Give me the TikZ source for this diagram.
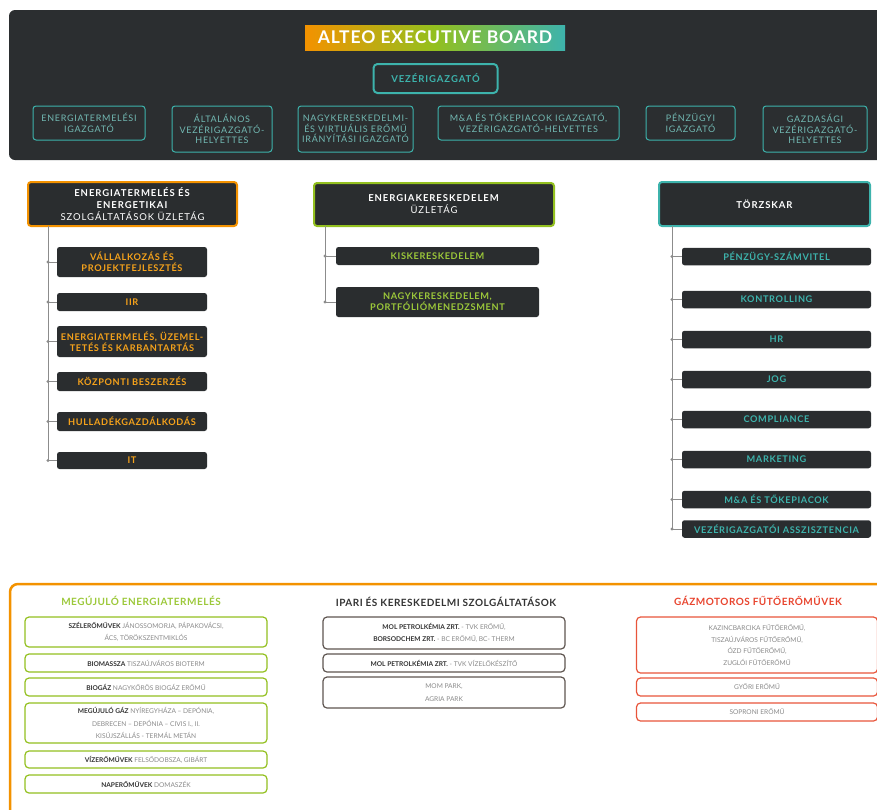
\documentclass[tikz,border=0pt]{standalone}
\usepackage{fontspec}
\setmainfont{Lato}
\newfontfamily\wsp{Lato}[LetterSpace=10]
\newfontfamily\wspi{Lato}[LetterSpace=7]
\newfontfamily\wspb{Lato}[LetterSpace=8]
\newfontfamily\wsps{Lato}[LetterSpace=5]
\usetikzlibrary{calc}
\definecolor{panel}{HTML}{2B2E30}
\definecolor{boxd}{HTML}{2A2D2F}
\definecolor{tealc}{HTML}{3DB3AC}
\definecolor{tealtx}{HTML}{72B9B3}
\definecolor{orng}{HTML}{F39200}
\definecolor{orngtx}{HTML}{F5A21B}
\definecolor{grn}{HTML}{93C01F}
\definecolor{grntx}{HTML}{9CC83A}
\definecolor{redc}{HTML}{E8553B}
\definecolor{redtx}{HTML}{E8452F}
\definecolor{brn}{HTML}{5E5550}
\definecolor{darktx}{HTML}{333333}
\definecolor{lighttx}{HTML}{8A8A8A}
\definecolor{connc}{HTML}{8C8C8C}
\tikzset{
  boardbox/.style={draw=tealc, line width=1pt, rounded corners=3pt, text=tealtx, font=\wspb\fontsize{9}{10.3}\selectfont, align=center, inner sep=1pt},
  hdr/.style={fill=boxd, line width=2pt, rounded corners=3pt, text=white, align=center, font=\wsp\fontsize{9.5}{12}\selectfont, inner sep=1pt},
  item/.style={fill=boxd, rounded corners=2.5pt, align=center, font=\wspi\bfseries\fontsize{9.2}{11}\selectfont, inner sep=0pt},
  listbox/.style={fill=white, line width=1.2pt, rounded corners=4pt, align=center, font=\fontsize{6.6}{12.5}\selectfont, text=lighttx, inner sep=0pt},
  sectitle/.style={font=\wsps\bfseries\fontsize{10}{11}\selectfont},
  conn/.style={draw=connc, line width=1pt},
}
\newcommand{\bd}[1]{\textcolor{darktx}{\bfseries #1}}
\begin{document}
\begin{tikzpicture}[x=1pt,y=-1pt]
\useasboundingbox (0,0) rectangle (877,809);
\clip (0,0) rectangle (877,809);
% board panel
\fill[panel, rounded corners=6pt] (9,10) rectangle (900,160);
\shade[left color=orng, right color=tealc, middle color=grn] (305,25) rectangle (565,50);
\node[text=white, font=\wsps\bfseries\fontsize{17.5}{20}\selectfont] (title) at (435,37.5) {ALTEO EXECUTIVE BOARD};
\node[boardbox, line width=2pt, rounded corners=4pt, font=\wsp\bfseries\fontsize{9.5}{11}\selectfont, text=tealc, minimum width=124, minimum height=29] (ceo) at (435.5,78.5) {VEZÉRIGAZGATÓ};
\node[boardbox, minimum width=112, minimum height=34] (b1) at (89,123) {ENERGIATERMELÉSI\\IGAZGATÓ};
\node[boardbox, minimum width=100, minimum height=46] (b2) at (222,129) {ÁLTALÁNOS\\VEZÉRIGAZGATÓ-\\HELYETTES};
\node[boardbox, minimum width=115, minimum height=46] (b3) at (355.5,129) {NAGYKERESKEDELMI-\\ÉS VIRTUÁLIS ERŐMŰ\\IRÁNYÍTÁSI IGAZGATÓ};
\node[boardbox, minimum width=181, minimum height=34] (b4) at (528.5,123) {M\&A ÉS TŐKEPIACOK IGAZGATÓ,\\VEZÉRIGAZGATÓ-HELYETTES};
\node[boardbox, minimum width=89, minimum height=34] (b5) at (690.5,123) {PÉNZÜGYI\\IGAZGATÓ};
\node[boardbox, minimum width=104, minimum height=46] (b6) at (815,129) {GAZDASÁGI\\VEZÉRIGAZGATÓ-\\HELYETTES};

% left column
\node[hdr, draw=orng, minimum width=209, minimum height=44] (h1) at (132.5,204) {\textbf{ENERGIATERMELÉS ÉS}\\\textbf{ENERGETIKAI}\\SZOLGÁLTATÁSOK ÜZLETÁG};
\begin{scope}[every node/.append style={item, text=orngtx, minimum width=150}]
\node[minimum height=30] (l1) at (132,262) {VÁLLALKOZÁS ÉS\\PROJEKTFEJLESZTÉS};
\node[minimum height=18] (l2) at (132,302) {IIR};
\node[minimum height=31] (l3) at (132,341.5) {ENERGIATERMELÉS, ÜZEMEL-\\TETÉS ÉS KARBANTARTÁS};
\node[minimum height=19] (l4) at (132,381.5) {KÖZPONTI BESZERZÉS};
\node[minimum height=19] (l5) at (132,421.5) {HULLADÉKGAZDÁLKODÁS};
\node[minimum height=17] (l6) at (132,460.5) {IT};
\end{scope}
\coordinate (lt) at (48,226);
\draw[conn] (lt) -- (lt |- l6.west);
\foreach \n in {l1,l2,l3,l4,l5,l6}{
  \draw[conn] (lt |- \n.west) -- (\n.west);
  \fill[connc] (lt |- \n.west) circle (1.6pt);
}

% middle column
\node[hdr, draw=grn, minimum width=240, minimum height=43] (h2) at (434,204.5) {\textbf{ENERGIAKERESKEDELEM}\\ÜZLETÁG};
\begin{scope}[every node/.append style={item, text=grntx, minimum width=203}]
\node[minimum height=18] (m1) at (437.5,256) {KISKERESKEDELEM};
\node[minimum height=30] (m2) at (437.5,302) {NAGYKERESKEDELEM,\\PORTFÓLIÓMENEDZSMENT};
\end{scope}
\coordinate (mt) at (325,226);
\draw[conn] (mt) -- (mt |- m2.west);
\foreach \n in {m1,m2}{
  \draw[conn] (mt |- \n.west) -- (\n.west);
  \fill[connc] (mt |- \n.west) circle (1.6pt);
}

% right column
\node[hdr, draw=tealc, minimum width=211, minimum height=44, font=\wsp\bfseries\fontsize{9.5}{12}\selectfont] (h3) at (764.5,204) {TÖRZSKAR};
\begin{scope}[every node/.append style={item, text=tealc, minimum width=189, minimum height=17.5}]
\node (r1) at (776.5,256.5) {PÉNZÜGY-SZÁMVITEL};
\node (r2) at (776.5,299.5) {KONTROLLING};
\node (r3) at (776.5,339.5) {HR};
\node (r4) at (776.5,379.5) {JOG};
\node (r5) at (776.5,419.5) {COMPLIANCE};
\node (r6) at (776.5,459.5) {MARKETING};
\node (r7) at (776.5,499.5) {M\&A ÉS TŐKEPIACOK};
\node (r8) at (776.5,529) {VEZÉRIGAZGATÓI ASSZISZTENCIA};
\end{scope}
\coordinate (rt) at (672,226);
\draw[conn] (rt) -- (rt |- r8.west);
\foreach \n in {r1,r2,r3,r4,r5,r6,r7,r8}{
  \draw[conn] (rt |- \n.west) -- (\n.west);
  \fill[connc] (rt |- \n.west) circle (1.6pt);
}

% bottom panel
\draw[orng, line width=2.5pt, rounded corners=8pt] (10,584) rectangle (900,830);
\node[sectitle, text=grntx] (s1) at (141,601) {MEGÚJULÓ ENERGIATERMELÉS};
\begin{scope}[every node/.append style={listbox, draw=grn, minimum width=242}]
\node[minimum height=30] (g1) at (146,632) {\bd{SZÉLERŐMŰVEK} JÁNOSSOMORJA, PÁPAKOVÁCSI,\\ÁCS, TÖRÖKSZENTMIKLÓS};
\node[minimum height=18] (g2) at (146,663) {\bd{BIOMASSZA} TISZAÚJVÁROS BIOTERM};
\node[minimum height=18] (g3) at (146,687) {\bd{BIOGÁZ} NAGYKŐRÖS BIOGÁZ ERŐMŰ};
\node[minimum height=40] (g4) at (146,723) {\bd{MEGÚJULÓ GÁZ} NYÍREGYHÁZA – DEPÓNIA,\\DEBRECEN – DEPÓNIA – CIVIS I., II.\\KISÚJSZÁLLÁS - TERMÁL METÁN};
\node[minimum height=17] (g5) at (146,759.5) {\bd{VÍZERŐMŰVEK} FELSŐDOBSZA, GIBÁRT};
\node[minimum height=18] (g6) at (146,784) {\bd{NAPERŐMŰVEK} DOMASZÉK};
\end{scope}

\node[sectitle, text=darktx] (s2) at (446,602) {IPARI ÉS KERESKEDELMI SZOLGÁLTATÁSOK};
\begin{scope}[every node/.append style={listbox, draw=brn, minimum width=242}]
\node[minimum height=32] (i1) at (444,633) {\bd{MOL PETROLKÉMIA ZRT.} - TVK ERŐMŰ,\\\bd{BORSODCHEM ZRT.} - BC ERŐMŰ, BC- THERM};
\node[minimum height=18] (i2) at (444,663) {\bd{MOL PETROLKÉMIA ZRT.} - TVK VÍZELŐKÉSZÍTŐ};
\node[minimum height=31] (i3) at (444,692.5) {MOM PARK,\\AGRIA PARK};
\end{scope}

\node[sectitle, text=redtx] (s3) at (758,601) {GÁZMOTOROS FŰTŐERŐMŰVEK};
\begin{scope}[every node/.append style={listbox, draw=redc, minimum width=241, font=\fontsize{6.6}{11.5}\selectfont}]
\node[minimum height=56] (k1) at (757,645) {KAZINCBARCIKA FŰTŐERŐMŰ,\\TISZAÚJVÁROS FŰTŐERŐMŰ,\\ÓZD FŰTŐERŐMŰ,\\ZUGLÓI FŰTŐERŐMŰ};
\node[minimum height=18] (k2) at (757,687) {GYŐRI ERŐMŰ};
\node[minimum height=18] (k3) at (757,712) {SOPRONI ERŐMŰ};
\end{scope}
\end{tikzpicture}
\end{document}
